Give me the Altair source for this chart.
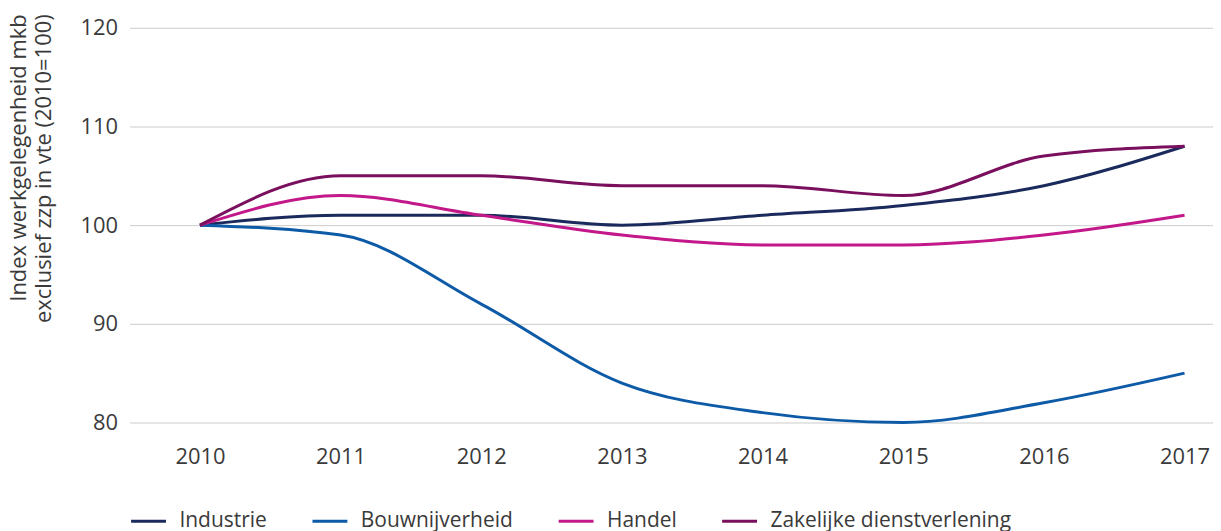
import altair as alt
import pandas as pd

years = ["2010", "2011", "2012", "2013", "2014", "2015", "2016", "2017"]
industrie = [100, 101, 101, 100, 101, 102, 104, 108]
bouw = [100, 99, 92, 84, 81, 80, 82, 85]
handel = [100, 103, 101, 99, 98, 98, 99, 101]
zakelijk = [100, 105, 105, 104, 104, 103, 107, 108]

series = ["Industrie", "Bouwnijverheid", "Handel", "Zakelijke dienstverlening"]
colors = ["#1b2a5c", "#0d5aa7", "#c2188a", "#7a0f5e"]

rows = []
for name, vals in zip(series, [industrie, bouw, handel, zakelijk]):
    for y, v in zip(years, vals):
        rows.append({"jaar": y, "waarde": v, "sector": name})
df = pd.DataFrame(rows)

FONT = "Open Sans"
TXT = "#3a3a3a"

chart = alt.Chart(df).mark_line(strokeWidth=3, interpolate="monotone").encode(
    x=alt.X("jaar:O", scale=alt.Scale(padding=0.5, range=[0, 1129]), sort=years,
            axis=alt.Axis(title=None, labelAngle=0, ticks=False, domain=False, grid=False,
                          labelPadding=24, labelFontSize=22, labelColor=TXT, labelFont=FONT)),
    y=alt.Y("waarde:Q", scale=alt.Scale(domain=[80, 120], nice=False, zero=False),
            axis=alt.Axis(values=[80, 90, 100, 110, 120], ticks=False, domain=False,
                          gridColor="#cccccc", gridWidth=1, labelPadding=12,
                          labelFontSize=22, labelColor=TXT, labelFont=FONT,
                          title=["Index werkgelegenheid mkb", "exclusief zzp in vte (2010=100)"],
                          titleFont=FONT, titleFontSize=22, titleFontWeight="normal",
                          titleColor=TXT, titleAngle=-90, titleAlign="right",
                          titleBaseline="top", titleX=-121, titleY=-14, titleLineHeight=25)),
    color=alt.Color("sector:N", sort=series,
                    scale=alt.Scale(domain=series, range=colors),
                    legend=alt.Legend(title=None, orient="none", direction="horizontal",
                                      legendX=0, legendY=476, symbolType="stroke",
                                      symbolSize=1225, symbolStrokeWidth=3,
                                      labelFontSize=21, labelFont=FONT, labelColor=TXT,
                                      labelOffset=12, columnPadding=39, padding=0,
                                      labelLimit=400)),
).properties(
    width=1087, height=396,
    autosize=alt.AutoSizeParams(type="none"),
    padding={"left": 122, "top": 19, "right": 0, "bottom": 108},
).configure_view(stroke=None)

chart.save("out.html", embed_options={"renderer": "svg", "actions": False})
